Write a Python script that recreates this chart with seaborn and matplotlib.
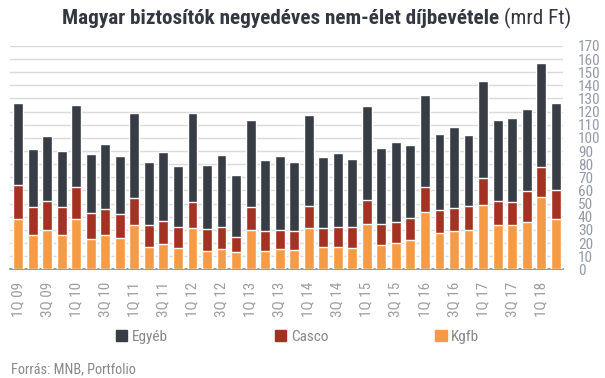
import matplotlib
matplotlib.use("Agg")
import matplotlib.pyplot as plt
import seaborn as sns
import pandas as pd
import numpy as np
from matplotlib.patches import Patch
from matplotlib import font_manager as fm

quarters = [f"{q}Q {y:02d}" for y in range(9, 19) for q in range(1, 5)][:38]

kgfb = [38.3, 26.1, 29.9, 26.1, 38.3, 23.1, 26.1, 23.9, 33.8, 17.0, 19.3, 16.2, 31.5,
        14.0, 15.5, 13.2, 29.9, 14.0, 15.5, 14.7, 31.5, 17.0, 17.0, 16.2, 34.5, 18.5,
        20.1, 22.3, 43.7, 27.7, 29.2, 29.9, 49.0, 33.8, 33.8, 36.0, 55.1, 38.3]
casco_top = [64.2, 47.5, 52.0, 47.5, 62.7, 42.9, 45.9, 42.1, 54.3, 33.8, 36.8, 32.2, 51.3,
             30.7, 32.2, 24.6, 47.5, 29.2, 29.9, 29.2, 48.2, 31.5, 32.2, 32.2, 52.8, 34.5,
             36.0, 39.1, 62.7, 45.2, 46.7, 48.2, 69.5, 52.0, 51.3, 59.6, 77.9, 60.4]
total = [126.6, 91.6, 101.5, 90.1, 125.1, 87.8, 95.4, 86.3, 119.0, 81.7, 89.3, 78.7, 119.0,
         79.4, 87.1, 71.8, 113.7, 83.2, 86.3, 81.7, 117.5, 85.5, 88.6, 84.0, 124.4, 92.4,
         97.0, 94.7, 132.7, 103.0, 108.4, 102.3, 143.4, 113.7, 115.2, 122.1, 157.1, 126.6]

casco = [round(c - k, 1) for c, k in zip(casco_top, kgfb)]
egyeb = [round(t - c, 1) for t, c in zip(total, casco_top)]

series_names = ["Egyéb", "Casco", "Kgfb"]
colors = {"Egyéb": "#383c45", "Casco": "#a33222", "Kgfb": "#f59b45"}

df = pd.DataFrame({"q": quarters, "Kgfb": kgfb, "Casco": casco, "Egyéb": egyeb})
df["s_casco"] = df["Kgfb"] + df["Casco"]
df["s_total"] = df["s_casco"] + df["Egyéb"]

sns.set_style("white")
installed = {f.name for f in fm.fontManager.ttflist}
fams = [f for f in ["Roboto Condensed", "Liberation Sans Narrow", "Roboto", "DejaVu Sans"]
        if f in installed]
plt.rcParams["font.family"] = fams

fig = plt.figure(figsize=(6.05, 3.78), dpi=100)
ax = fig.add_axes([0.016, 0.2876, 0.914, 0.591])

for col, name in [("s_total", "Egyéb"), ("s_casco", "Casco"), ("Kgfb", "Kgfb")]:
    sns.barplot(data=df, x="q", y=col, color=colors[name], width=0.68,
                saturation=1, ax=ax, zorder=3)

ax.set_ylim(0, 170)
ax.set_xlim(-0.58, 37.48)
ax.set_yticks(np.arange(0, 171, 10))
ax.yaxis.tick_right()
ax.grid(axis="y", color="#d9d9d9", linewidth=1, zorder=0)
ax.set_axisbelow(True)
for s in ["top", "left", "right"]:
    ax.spines[s].set_visible(False)
ax.spines["bottom"].set_color("#888888")
ax.spines["bottom"].set_linewidth(1.2)
ax.set_xlabel("")
ax.set_ylabel("")
ax.set_xticks(range(0, 38, 2))
ax.set_xticklabels(quarters[::2], rotation=90)
ax.tick_params(axis="x", length=0, pad=9, labelsize=11, colors="#9e9e9e")
ax.tick_params(axis="y", length=0, pad=11, labelsize=11, colors="#939aa8")

handles = [Patch(color=colors[n], label=n) for n in series_names]
leg = fig.legend(handles=handles, loc="center", bbox_to_anchor=(0.492, 0.108), ncol=3,
                 frameon=False, handlelength=0.75, handleheight=0.75, handletextpad=0.3,
                 columnspacing=7.0, fontsize=11)
for t in leg.get_texts():
    t.set_color("#888888")

fig.text(0.018, 0.022, "Forrás: MNB, Portfolio", fontsize=10.3, color="#888888",
         ha="left", va="center")

tsize = 15.2
t1 = fig.text(0.5, 0.95, "Magyar biztosítók negyedéves nem-élet díjbevétele",
              fontsize=tsize, fontweight="bold", color="#333740", ha="left", va="center")
t2 = fig.text(0.5, 0.95, " (mrd Ft)", fontsize=tsize, color="#333740", ha="left", va="center")
fig.canvas.draw()
r = fig.canvas.get_renderer()
w1 = t1.get_window_extent(r).width / fig.bbox.width
w2 = t2.get_window_extent(r).width / fig.bbox.width
cx = 317 / 605
x0 = cx - (w1 + w2) / 2
t1.set_x(x0)
t2.set_x(x0 + w1)

fig.savefig("out.png", dpi=100)
